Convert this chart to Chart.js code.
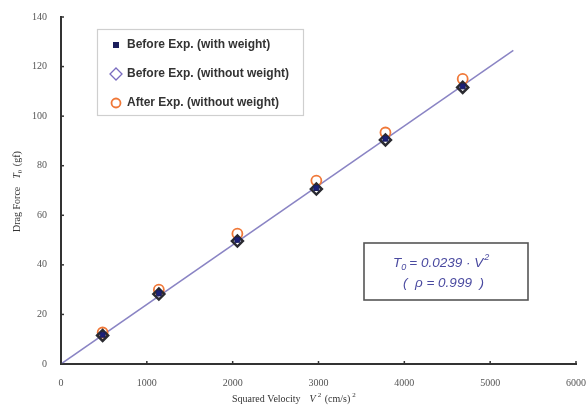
<!DOCTYPE html>
<html>
<head>
<meta charset="utf-8">
<script src="https://cdn.jsdelivr.net/npm/chart.js@4"></script>
<style>
  html, body { margin: 0; padding: 0; background: #fff; }
  #wrap { width: 588px; height: 408px; position: relative; }
</style>
</head>
<body>
<div id="wrap"><canvas id="drag"></canvas></div>
<script>
// --- data ---
const velSq = [485, 1140, 2055, 2975, 3780, 4680];          // V^2 (cm/s)^2
const beforeWithWeight = [11.8, 28.6, 50.1, 71.0, 90.9, 112.0];
const beforeNoWeight = [11.5, 28.2, 49.6, 70.6, 90.4, 111.6];
const afterNoWeight = [12.7, 30.0, 52.6, 74.0, 93.4, 115.0];
const fitX = [0, 5270];
const fitY = [0, 126.5];
const xTicks = [0, 1000, 2000, 3000, 4000, 5000, 6000];
const yTicks = [0, 20, 40, 60, 80, 100, 120, 140];
const legendLabels = ["Before Exp. (with weight)", "Before Exp. (without weight)", "After Exp. (without weight)"];

const pts = (xs, ys) => xs.map((x, i) => ({ x: x, y: ys[i] }));

// axis titles, inner tick marks, legend box and equation box
const extras = {
  id: 'extras',
  afterDraw(chart) {
    const ctx = chart.ctx;
    const xs = chart.scales.x, ys = chart.scales.y;
    ctx.save();

    // inner tick marks
    ctx.strokeStyle = '#333';
    ctx.lineWidth = 1.5;
    for (const t of xTicks) {
      const px = xs.getPixelForValue(t);
      ctx.beginPath(); ctx.moveTo(px, ys.bottom); ctx.lineTo(px, ys.bottom - 3); ctx.stroke();
    }
    for (const t of yTicks) {
      const py = ys.getPixelForValue(t);
      ctx.beginPath(); ctx.moveTo(xs.left, py); ctx.lineTo(xs.left + 3, py); ctx.stroke();
    }

    // x title
    ctx.fillStyle = '#333';
    ctx.textBaseline = 'alphabetic';
    ctx.textAlign = 'left';
    let x = 232, y = 402;
    ctx.font = '10px "Liberation Serif"';
    ctx.fillText('Squared Velocity', x, y);
    x += ctx.measureText('Squared Velocity').width + 9;
    ctx.font = 'italic 10px "Liberation Serif"';
    ctx.fillText('V', x, y);
    x += ctx.measureText('V').width + 2;
    ctx.font = '7px "Liberation Serif"';
    ctx.fillText('2', x, y - 5);
    x += 7;
    ctx.font = '10px "Liberation Serif"';
    ctx.fillText('(cm/s)', x, y);
    x += ctx.measureText('(cm/s)').width + 2;
    ctx.font = '7px "Liberation Serif"';
    ctx.fillText('2', x, y - 5);

    // y title (rotated)
    ctx.save();
    ctx.translate(20, 232);
    ctx.rotate(-Math.PI / 2);
    x = 0; y = 0;
    ctx.font = '10px "Liberation Serif"';
    ctx.fillText('Drag Force', x, y);
    x += ctx.measureText('Drag Force').width + 8;
    ctx.font = 'italic 10px "Liberation Serif"';
    ctx.fillText('T', x, y);
    x += ctx.measureText('T').width;
    ctx.font = '7px "Liberation Serif"';
    ctx.fillText('0', x, y + 2);
    x += 7;
    ctx.font = '10px "Liberation Serif"';
    ctx.fillText('(gf)', x, y);
    ctx.restore();

    // legend box
    ctx.strokeStyle = '#cfcfcf';
    ctx.lineWidth = 1.2;
    ctx.strokeRect(97.5, 29.5, 206, 86);
    ctx.font = 'bold 12px "Liberation Sans"';
    ctx.fillStyle = '#333';
    ctx.textBaseline = 'middle';
    const rowY = [45, 74, 103];
    legendLabels.forEach((txt, i) => ctx.fillText(txt, 127, rowY[i]));
    // markers
    ctx.fillStyle = '#1b1f5c';
    ctx.fillRect(113, rowY[0] - 3, 6, 6);
    ctx.strokeStyle = '#7a6cc0';
    ctx.lineWidth = 1.3;
    ctx.beginPath();
    ctx.moveTo(116, rowY[1] - 6); ctx.lineTo(122, rowY[1]);
    ctx.lineTo(116, rowY[1] + 6); ctx.lineTo(110, rowY[1]); ctx.closePath();
    ctx.stroke();
    ctx.strokeStyle = '#f07838';
    ctx.lineWidth = 1.8;
    ctx.beginPath(); ctx.arc(116, rowY[2], 4.5, 0, Math.PI * 2); ctx.stroke();

    // equation box
    ctx.strokeStyle = '#555';
    ctx.lineWidth = 1.6;
    ctx.strokeRect(364, 243, 164, 57);
    ctx.fillStyle = '#4a4aa0';
    ctx.textBaseline = 'middle';
    x = 393; y = 263;
    ctx.font = 'italic 13.5px "Liberation Sans"';
    ctx.fillText('T', x, y);
    x += ctx.measureText('T').width;
    ctx.font = 'italic 9px "Liberation Sans"';
    ctx.fillText('0', x, y + 4);
    x += 8;
    ctx.font = 'italic 13.5px "Liberation Sans"';
    ctx.fillText('= 0.0239 · V', x, y);
    x += ctx.measureText('= 0.0239 · V').width + 1;
    ctx.font = 'italic 9px "Liberation Sans"';
    ctx.fillText('2', x, y - 6);
    ctx.font = 'italic 13.5px "Liberation Sans"';
    ctx.fillText('(  ρ = 0.999  )', 403, 283);

    ctx.restore();
  }
};

const cfg = {
  type: 'scatter',
  data: {
    datasets: [
      {
        label: legendLabels[0],
        data: pts(velSq, beforeWithWeight),
        pointStyle: 'rect',
        pointRadius: 3.5,
        backgroundColor: '#1b1f7a',
        borderColor: '#1b1f5c',
        borderWidth: 1,
        order: 1
      },
      {
        label: legendLabels[1],
        data: pts(velSq, beforeNoWeight),
        pointStyle: 'rectRot',
        pointRadius: 5.5,
        backgroundColor: 'rgba(0,0,0,0)',
        borderColor: '#2a2a30',
        borderWidth: 2.5,
        order: 2
      },
      {
        label: legendLabels[2],
        data: pts(velSq, afterNoWeight),
        pointStyle: 'circle',
        pointRadius: 5,
        backgroundColor: 'rgba(0,0,0,0)',
        borderColor: '#f07838',
        borderWidth: 1.8,
        order: 3
      },
      {
        type: 'line',
        label: 'fit',
        data: pts(fitX, fitY),
        borderColor: '#8a84c4',
        borderWidth: 1.5,
        pointRadius: 0,
        fill: false,
        order: 4
      }
    ]
  },
  options: {
    responsive: false,
    animation: false,
    layout: { padding: { top: 17, right: 0, left: 0, bottom: 0 } },
    plugins: {
      legend: { display: false },
      tooltip: { enabled: false }
    },
    scales: {
      x: {
        type: 'linear',
        min: 0,
        max: 6000,
        afterBuildTicks: (s) => { s.ticks = xTicks.map(v => ({ value: v })); },
        afterFit: (s) => { s.height = 44; s.paddingRight = 12; s.paddingLeft = 0; },
        grid: { display: false },
        border: { color: '#333', width: 2 },
        ticks: {
          color: '#555',
          font: { family: 'Liberation Serif', size: 10 },
          padding: 5,
          maxRotation: 0,
          callback: (v) => String(v)
        }
      },
      y: {
        min: 0,
        max: 140,
        afterBuildTicks: (s) => { s.ticks = yTicks.map(v => ({ value: v })); },
        afterFit: (s) => { s.width = 61; },
        grid: { display: false },
        border: { color: '#333', width: 2 },
        ticks: { color: '#555', font: { family: 'Liberation Serif', size: 10 }, padding: 6 }
      }
    }
  },
  plugins: [extras]
};

const canvas = document.getElementById('drag');
canvas.width = 588;
canvas.height = 408;
new Chart(canvas, cfg);
</script>
</body>
</html>
